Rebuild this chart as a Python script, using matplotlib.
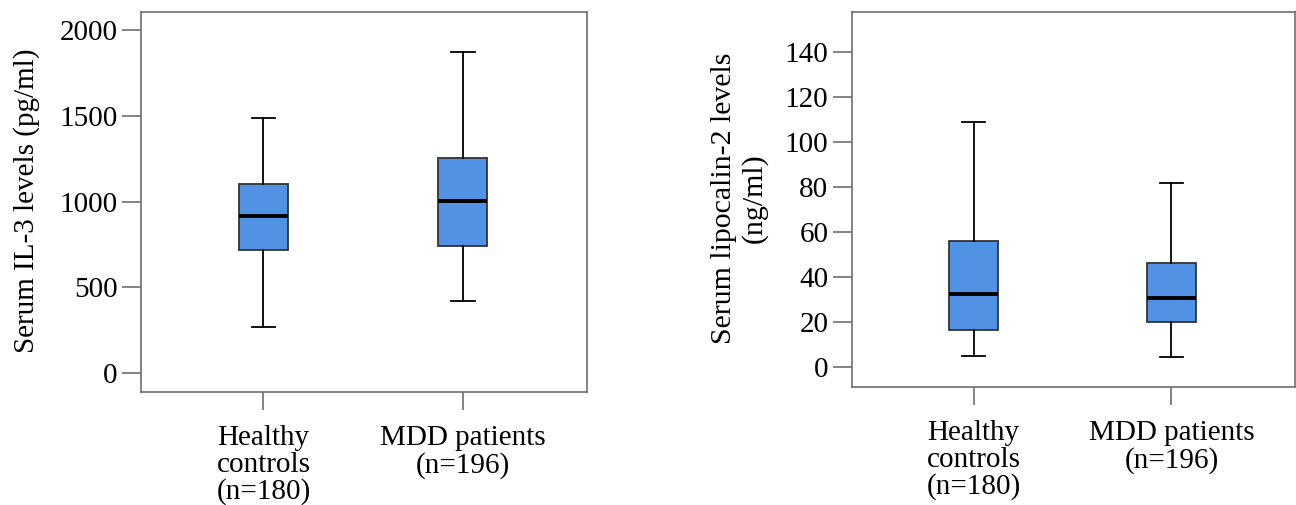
import matplotlib
matplotlib.use('Agg')
import matplotlib.pyplot as plt

plt.rcParams['font.family'] = ['Liberation Serif', 'DejaVu Serif']

groups = ['Healthy\ncontrols\n(n=180)', 'MDD patients\n(n=196)']

# IL-3 (pg/ml): whisker low, Q1, median, Q3, whisker high
il3_low = [270, 420]
il3_q1 = [715, 740]
il3_med = [915, 1005]
il3_q3 = [1105, 1255]
il3_high = [1488, 1870]

# lipocalin-2 (ng/ml)
lcn_low = [5, 4.5]
lcn_q1 = [16.5, 20]
lcn_med = [32.5, 30.5]
lcn_q3 = [56, 46]
lcn_high = [109, 82]

box_color = '#5292e5'
edge = '#333333'
spine_col = '#6e6e6e'


def make_stats(low, q1, med, q3, high):
    stats = []
    for i in range(len(low)):
        stats.append({'whislo': low[i], 'q1': q1[i], 'med': med[i],
                      'q3': q3[i], 'whishi': high[i], 'fliers': []})
    return stats


def draw(ax, stats, ylim, yticks, ylabel, ylab_size, ylab_ls, ylab_x):
    ax.bxp(stats, positions=[1, 2], widths=0.25, capwidths=0.12,
           patch_artist=True, showfliers=False,
           boxprops=dict(facecolor=box_color, edgecolor=edge, linewidth=1.3),
           medianprops=dict(color='black', linewidth=2.8),
           whiskerprops=dict(color='black', linewidth=1.3),
           capprops=dict(color='black', linewidth=1.3))
    ax.set_xlim(0.385, 2.625)
    ax.set_ylim(*ylim)
    ax.set_yticks(yticks)
    ax.set_xticks([1, 2])
    ax.set_xticklabels(groups, fontsize=21, linespacing=1.03)
    ax.set_ylabel(ylabel, fontsize=ylab_size, linespacing=ylab_ls)
    ax.yaxis.set_label_coords(ylab_x, 0.503)
    for s in ax.spines.values():
        s.set_color(spine_col)
        s.set_linewidth(1.2)
    ax.tick_params(axis='y', labelsize=21, length=14, width=1.2,
                   color=spine_col, pad=3)
    ax.tick_params(axis='x', labelsize=21, length=13, width=1.2,
                   color=spine_col, pad=11)


fig = plt.figure(figsize=(12.96, 5.05), dpi=100)

ax1 = fig.add_axes([141 / 1296, 113 / 505, 446 / 1296, 380 / 505])
draw(ax1, make_stats(il3_low, il3_q1, il3_med, il3_q3, il3_high),
     (-110, 2105), [0, 500, 1000, 1500, 2000], 'Serum IL-3 levels (pg/ml)',
     21, 1.0, -0.226)

ax2 = fig.add_axes([852 / 1296, 118 / 505, 443 / 1296, 375 / 505])
draw(ax2, make_stats(lcn_low, lcn_q1, lcn_med, lcn_q3, lcn_high),
     (-8.9, 157.8), [0, 20, 40, 60, 80, 100, 120, 140],
     'Serum lipocalin-2 levels\n(ng/ml)', 21.5, 1.18, -0.19)

fig.savefig('out.png', dpi=100)
